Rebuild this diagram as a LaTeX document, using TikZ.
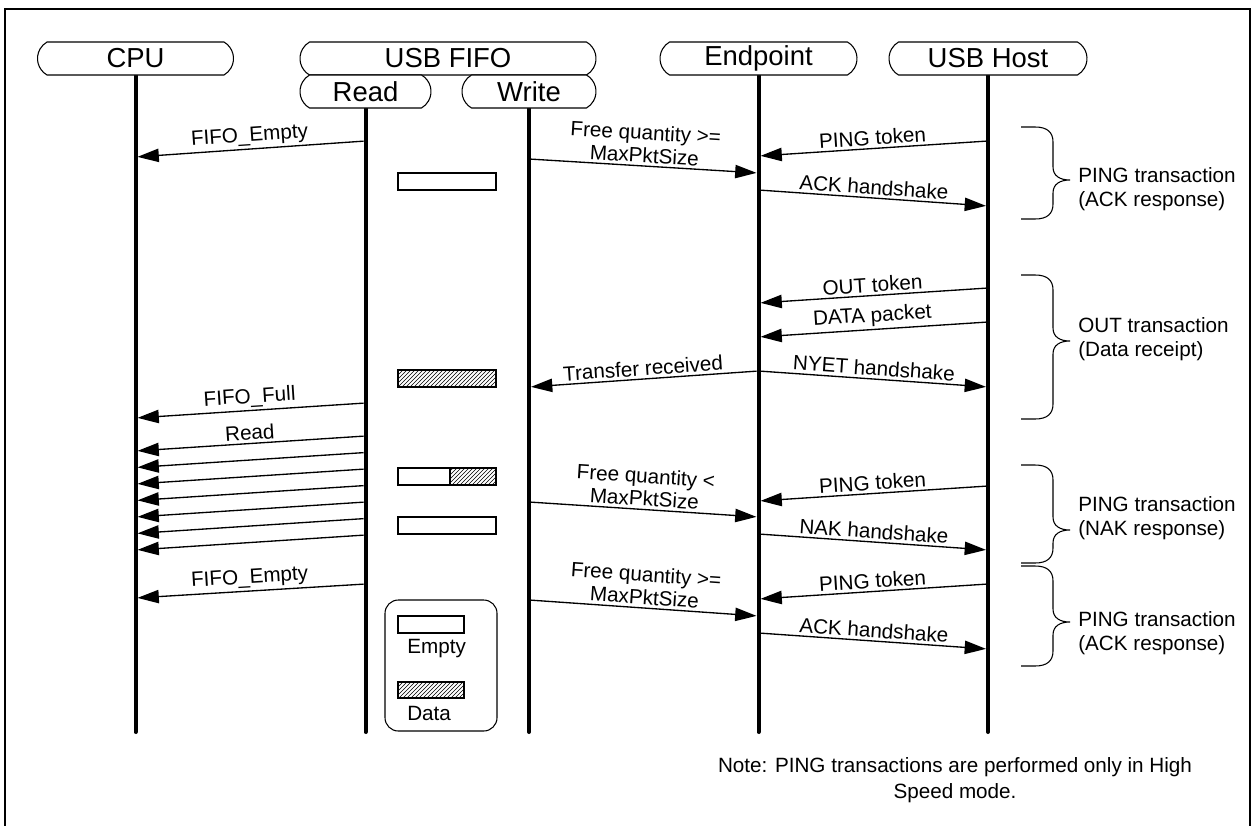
\documentclass[tikz,border=0pt]{standalone}
\usepackage{fontspec}
\setmainfont{Liberation Sans}
\usetikzlibrary{arrows.meta,shapes.misc,patterns,backgrounds}
\newcommand\brc[3]{\draw[bracestyle] (1021,#1) -- (1035,#1) .. controls (1047,#1) and (1053,#1+5) .. (1053,#1+15) -- (1053,#2-13) .. controls (1053,#2-4) and (1060,#2) .. (1070,#2) .. controls (1060,#2) and (1053,#2+4) .. (1053,#2+13) -- (1053,#3-15) .. controls (1053,#3-5) and (1047,#3) .. (1035,#3) -- (1021,#3);}
\begin{document}
\begin{tikzpicture}[x=0.75pt,y=-0.75pt,
  frame/.style={line width=1pt},
  lifeline/.style={line width=3pt, line cap=round},
  hdr/.style={rounded rectangle, rounded rectangle arc length=120, draw, fill=white, line width=0.8pt, inner sep=0pt, minimum height=24.75pt, font=\fontsize{20.6}{24}\selectfont},
  msg/.style={-{Triangle[length=16pt,width=10pt]}, line width=1pt, shorten >=1.5pt, shorten <=1.5pt},
  lbl/.style={font=\fontsize{15.5}{17}\selectfont, sloped, above, inner sep=2pt, align=center, midway},
  txt/.style={font=\fontsize{15.5}{18}\selectfont, inner sep=0pt, align=left},
  state/.style={draw, line width=0.8pt},
  hatch/.style={draw, line width=0.8pt, pattern=north east lines},
  bracestyle/.style={line width=0.8pt}]
\useasboundingbox (0,0) rectangle (1252,825);
\draw[frame] (5,830) -- (5,9) -- (1250,9) -- (1250,830);

% headers
\node[hdr, minimum width=147pt] (cpu) at (135.5,58.5) {CPU};
\node[hdr, minimum width=222pt] (fifo) at (448,58.5) {USB FIFO};
\node[hdr, minimum width=98.25pt] (read) at (365.5,91.5) {Read};
\node[hdr, minimum width=100.5pt] (write) at (529,91.5) {Write};
\node[hdr, minimum width=147.75pt] (ep) at (758.5,58.5) {Endpoint};
\node[hdr, minimum width=148.5pt] (host) at (988,58.5) {USB Host};

% lifelines
\begin{scope}[on background layer]
\draw[lifeline] (cpu.south) -- (cpu.south |- 0,732);
\draw[lifeline] (read.south) -- (read.south |- 0,732);
\draw[lifeline] (write.south) -- (write.south |- 0,732);
\draw[lifeline] (ep.south) -- (ep.south |- 0,732);
\draw[lifeline] (host.south) -- (host.south |- 0,732);
\end{scope}

% messages
\draw[msg] (read |- 0,141) -- node[lbl]{FIFO\_Empty} (cpu |- 0,157);
\draw[msg] (write |- 0,159) -- node[lbl]{Free quantity >=\\MaxPktSize} (ep |- 0,173);
\draw[msg] (host |- 0,141) -- node[lbl]{PING token} (ep |- 0,156);
\draw[msg] (ep |- 0,190) -- node[lbl]{ACK handshake} (host |- 0,206);
\draw[msg] (host |- 0,288) -- node[lbl]{OUT token} (ep |- 0,303);
\draw[msg] (host |- 0,322) -- node[lbl]{DATA packet} (ep |- 0,337);
\draw[msg] (ep |- 0,371) -- node[lbl]{NYET handshake} (host |- 0,387);
\draw[msg] (ep |- 0,371) -- node[lbl]{Transfer received} (write |- 0,387);
\draw[msg] (read |- 0,403) -- node[lbl]{FIFO\_Full} (cpu |- 0,418);
\draw[msg] (read |- 0,436) -- node[lbl]{Read} (cpu |- 0,451);
\foreach \yy in {452.5,469,485.5,502,518.5,535}
  \draw[msg] (read |- 0,\yy) -- (cpu |- 0,\yy+15);
\draw[msg] (write |- 0,502) -- node[lbl]{Free quantity <\\MaxPktSize} (ep |- 0,517);
\draw[msg] (host |- 0,486) -- node[lbl]{PING token} (ep |- 0,501);
\draw[msg] (ep |- 0,534) -- node[lbl]{NAK handshake} (host |- 0,550);
\draw[msg] (read |- 0,584) -- node[lbl]{FIFO\_Empty} (cpu |- 0,598);
\draw[msg] (write |- 0,600) -- node[lbl]{Free quantity >=\\MaxPktSize} (ep |- 0,616);
\draw[msg] (host |- 0,584) -- node[lbl]{PING token} (ep |- 0,599);
\draw[msg] (ep |- 0,633) -- node[lbl]{ACK handshake} (host |- 0,649);

% FIFO states
\draw[state] (398,173) rectangle (496,190);
\draw[hatch] (398,370) rectangle (496,387);
\draw[state] (398,468) rectangle (450,485);
\draw[hatch] (450,468) rectangle (496,485);
\draw[state] (398,517) rectangle (496,534);

% legend
\draw[line width=0.8pt, rounded corners=10pt] (385,600) rectangle (497,731);
\draw[state] (398,616) rectangle (464,633);
\node[txt, anchor=west] (lgE) at (407,649) {Empty};
\draw[hatch] (398,682) rectangle (464,698);
\node[txt, anchor=west] (lgD) at (407,713) {Data};

% braces
\brc{127}{180}{219}
\brc{275}{341}{419}
\brc{465}{530}{563}
\brc{566}{622}{666}
\node[txt, anchor=west] (t1) at (1078,189) {PING transaction\\(ACK response)};
\node[txt, anchor=west] (t2) at (1078,339) {OUT transaction\\(Data receipt)};
\node[txt, anchor=west] (t3) at (1078,518) {PING transaction\\(NAK response)};
\node[txt, anchor=west] (t4) at (1078,633) {PING transaction\\(ACK response)};

% note
\node[font=\fontsize{15.5}{19.5}\selectfont, align=center, inner sep=0pt] (note) at (955,780) {Note: PING transactions are performed only in High\\Speed mode.};
\end{tikzpicture}
\end{document}
